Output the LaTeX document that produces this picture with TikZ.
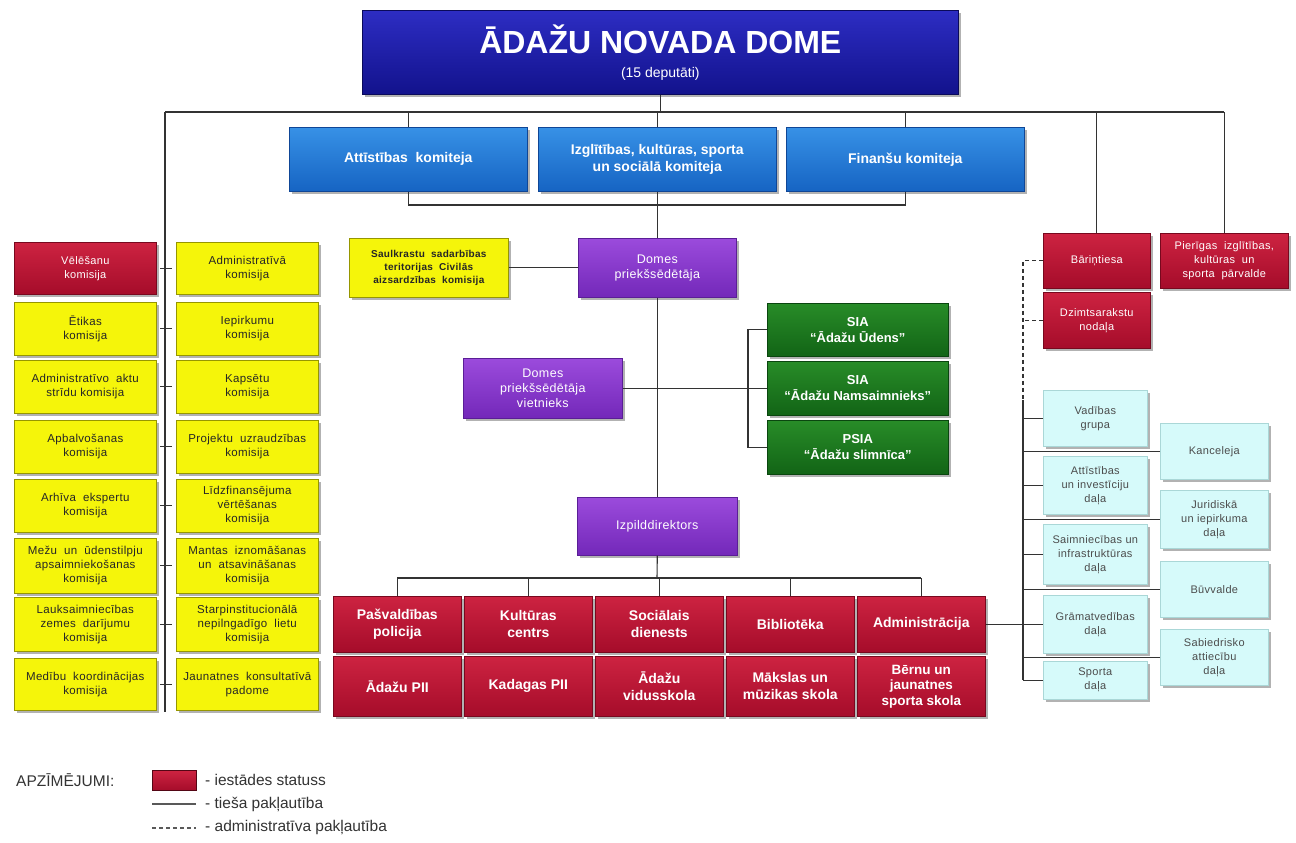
\documentclass[tikz,border=0pt]{standalone}
\usepackage{fontspec}
\setmainfont{Liberation Sans}
\newfontfamily\spacedfont[LetterSpace=3]{Liberation Sans}
\usetikzlibrary{shadows,calc}
\definecolor{domeT}{RGB}{45,45,195}
\definecolor{domeB}{RGB}{18,18,140}
\definecolor{domeD}{RGB}{10,10,90}
\definecolor{commT}{RGB}{55,145,230}
\definecolor{commB}{RGB}{22,100,195}
\definecolor{commD}{RGB}{15,70,150}
\definecolor{purpT}{RGB}{155,75,220}
\definecolor{purpB}{RGB}{115,40,185}
\definecolor{purpD}{RGB}{90,30,150}
\definecolor{grnT}{RGB}{40,140,40}
\definecolor{grnB}{RGB}{18,100,22}
\definecolor{grnD}{RGB}{10,70,15}
\definecolor{redT}{RGB}{205,35,65}
\definecolor{redB}{RGB}{165,12,42}
\definecolor{redD}{RGB}{120,8,30}
\definecolor{yel}{RGB}{245,245,10}
\definecolor{yelD}{RGB}{150,150,0}
\definecolor{lb}{RGB}{214,250,250}
\definecolor{lbD}{RGB}{170,215,215}
\tikzset{
 base/.style={anchor=north west, inner sep=2pt, align=center, line width=0.6pt},
 shad/.style={drop shadow={shadow xshift=3pt, shadow yshift=-3pt, opacity=0.3, fill=black}},
 domebox/.style={base, shad, top color=domeT, bottom color=domeB, draw=domeD, text=white},
 commbox/.style={base, shad, top color=commT, bottom color=commB, draw=commD, text=white, font=\bfseries\fontsize{14}{17}\selectfont, minimum width=238, minimum height=64},
 purpbox/.style={base, shad, top color=purpT, bottom color=purpB, draw=purpD, text=white, font=\spacedfont\fontsize{12.5}{15}\selectfont},
 grnbox/.style={base, shad, top color=grnT, bottom color=grnB, draw=grnD, text=white, font=\bfseries\fontsize{13}{16}\selectfont, minimum width=181},
 redbox/.style={base, shad, top color=redT, bottom color=redB, draw=redD, text=white, font=\bfseries\fontsize{14}{17}\selectfont, minimum width=128},
 redsm/.style={base, shad, top color=redT, bottom color=redB, draw=redD, text=white, font=\spacedfont\fontsize{11}{14}\selectfont},
 ybox/.style={base, shad, fill=yel, draw=yelD, text=black!85, font=\spacedfont\fontsize{11.5}{14}\selectfont, minimum width=142},
 lbbox/.style={base, shad, fill=lb, draw=lbD, text=black!70, font=\spacedfont\fontsize{11}{14}\selectfont},
 conn/.style={draw=black!80, line width=1.1pt},
 dconn/.style={conn, dash pattern=on 4pt off 3pt},
 legtext/.style={anchor=west, inner sep=0pt, text=black!80, font=\fontsize{15.5}{18}\selectfont},
}
\begin{document}
\begin{tikzpicture}[x=1pt,y=-1pt]
\useasboundingbox[fill=white] (0,0) rectangle (1296,843);

% top
\node[domebox, minimum width=596, minimum height=84, font=\fontsize{14}{16}\selectfont] (dome) at (362,10)
 {{\bfseries\fontsize{32}{34}\selectfont ĀDAŽU NOVADA DOME}\\[8pt](15 deputāti)};
\node[commbox] (attk) at (289,127) {Attīstības\ \ komiteja};
\node[commbox] (izgl) at (538,127) {Izglītības,\ kultūras,\ sporta\\un sociālā komiteja};
\node[commbox] (fin) at (786,127) {Finanšu\ komiteja};

% left commissions
\node[redsm, minimum width=142, minimum height=52] (k1a) at (14,242) {Vēlēšanu\\komisija};
\node[ybox, minimum height=52] (k1b) at (176,242) {Administratīvā\\komisija};
\node[ybox, minimum height=53] (k2a) at (14,302) {Ētikas\\komisija};
\node[ybox, minimum height=53] (k2b) at (176,302) {Iepirkumu\\komisija};
\node[ybox, minimum height=53] (k3a) at (14,360) {Administratīvo\ \ aktu\\strīdu komisija};
\node[ybox, minimum height=53] (k3b) at (176,360) {Kapsētu\\komisija};
\node[ybox, minimum height=53] (k4a) at (14,420) {Apbalvošanas\\komisija};
\node[ybox, minimum height=53] (k4b) at (176,420) {Projektu\ \ uzraudzības\\komisija};
\node[ybox, minimum height=53] (k5a) at (14,479) {Arhīva\ \ ekspertu\\komisija};
\node[ybox, minimum height=53] (k5b) at (176,479) {Līdzfinansējuma\\vērtēšanas\\komisija};
\node[ybox, minimum height=55] (k6a) at (14,538) {Mežu\ \ un\ \ ūdenstilpju\\apsaimniekošanas\\komisija};
\node[ybox, minimum height=55] (k6b) at (176,538) {Mantas\ \ iznomāšanas\\un\ \ atsavināšanas\\komisija};
\node[ybox, minimum height=54] (k7a) at (14,597) {Lauksaimniecības\\zemes\ \ darījumu\\komisija};
\node[ybox, minimum height=54] (k7b) at (176,597) {Starpinstitucionālā\\nepilngadīgo\ \ lietu\\komisija};
\node[ybox, minimum height=52] (k8a) at (14,658) {Medību\ \ koordinācijas\\komisija};
\node[ybox, minimum height=52] (k8b) at (176,658) {Jaunatnes\ \ konsultatīvā\\padome};

% middle
\node[ybox, minimum width=159, minimum height=59, font=\spacedfont\bfseries\fontsize{10}{13}\selectfont] (saul) at (349,238) {Saulkrastu\ \ sadarbības\\teritorijas\ \ Civilās\\aizsardzības\ \ komisija};
\node[purpbox, minimum width=158, minimum height=59] (dp) at (578,238) {Domes\\priekšsēdētāja};
\node[purpbox, minimum width=159, minimum height=60] (viet) at (463,358) {Domes\\priekšsēdētāja\\vietnieks};
\node[grnbox, minimum height=53] (sia1) at (767,303) {SIA\\“Ādažu Ūdens”};
\node[grnbox, minimum height=54] (sia2) at (767,361) {SIA\\“Ādažu Namsaimnieks”};
\node[grnbox, minimum height=54] (sia3) at (767,420) {PSIA\\“Ādažu slimnīca”};
\node[purpbox, minimum width=160, minimum height=58] (izp) at (577,497) {Izpilddirektors};

% red institutions
\node[redbox, minimum height=56] (r1) at (333,596) {Pašvaldības\\policija};
\node[redbox, minimum height=56] (r2) at (464,596) {Kultūras\\centrs};
\node[redbox, minimum height=56] (r3) at (595,596) {Sociālais\\dienests};
\node[redbox, minimum height=56] (r4) at (726,596) {Bibliotēka};
\node[redbox, minimum height=56] (r5) at (857,596) {Administrācija};
\node[redbox, minimum height=60] (s1) at (333,656) {Ādažu PII};
\node[redbox, minimum height=60] (s2) at (464,656) {Kadagas PII};
\node[redbox, minimum height=60] (s3) at (595,656) {Ādažu\\vidusskola};
\node[redbox, minimum height=60] (s4) at (726,656) {Mākslas un\\mūzikas skola};
\node[redbox, minimum height=60, font=\bfseries\fontsize{13.5}{15.5}\selectfont] (s5) at (857,656) {Bērnu un\\jaunatnes\\sporta skola};

% right cluster
\node[redsm, minimum width=107, minimum height=55] (bar) at (1043,233) {Bāriņtiesa};
\node[redsm, minimum width=107, minimum height=56] (dzim) at (1043,292) {Dzimtsarakstu\\nodaļa};
\node[redsm, minimum width=128, minimum height=55] (pier) at (1160,233) {Pierīgas\ \ izglītības,\\kultūras\ \ un\\sporta\ \ pārvalde};
\node[lbbox, minimum width=104, minimum height=56] (vad) at (1043,390) {Vadības\\grupa};
\node[lbbox, minimum width=104, minimum height=58] (att) at (1043,456) {Attīstības\\un investīciju\\daļa};
\node[lbbox, minimum width=104, minimum height=60] (saim) at (1043,524) {Saimniecības un\\infrastruktūras\\daļa};
\node[lbbox, minimum width=104, minimum height=58] (gram) at (1043,595) {Grāmatvedības\\daļa};
\node[lbbox, minimum width=104, minimum height=38] (sporta) at (1043,661) {Sporta\\daļa};
\node[lbbox, minimum width=108, minimum height=56] (kanc) at (1160,423) {Kanceleja};
\node[lbbox, minimum width=108, minimum height=58] (jur) at (1160,490) {Juridiskā\\un iepirkuma\\daļa};
\node[lbbox, minimum width=108, minimum height=56] (buv) at (1160,561) {Būvvalde};
\node[lbbox, minimum width=108, minimum height=56] (sab) at (1160,629) {Sabiedrisko\\attiecību\\daļa};

% connectors
\coordinate (busL) at (165,112);
\coordinate (busR) at (1224,112);
\coordinate (lbot) at (165,712);
\coordinate (cb) at (657,205);
\coordinate (gb) at (748,388);
\coordinate (rb) at (657,578);
\coordinate (vx) at (1023,400);
\draw[conn] (busL) -- (busR);
\draw[conn] (dome.south) -- (dome.south |- busL);
\foreach \n in {attk,izgl,fin} \draw[conn] (\n.north) -- (\n.north |- busL);
\draw[conn] (attk.south) -- (attk.south |- cb) -- (fin.south |- cb) -- (fin.south);
\draw[conn] (izgl.south) -- (dp.north);
\draw[conn] (busL) -- (lbot);
\foreach \r in {1,...,8} \draw[conn] ($(k\r a.east)!0.2!(k\r b.west)$) -- ($(k\r a.east)!0.8!(k\r b.west)$);
\draw[conn] (saul.east) -- (dp.west);
\draw[conn] (dp.south) -- (izp.north);
\draw[conn] (viet.east) -- (sia2.west);
\draw[conn] (sia1.west) -- (sia1.west -| gb) -- (sia3.west -| gb) -- (sia3.west);
\draw[conn] (izp.south) -- (rb);
\draw[conn] (r1.north |- rb) -- (r5.north |- rb);
\foreach \n in {r1,r2,r3,r4,r5} \draw[conn] (\n.north) -- (\n.north |- rb);
\draw[conn] (r5.east) -- (gram.west);
\draw[conn] (bar.north) -- (bar.north |- busL);
\draw[conn] (pier.north) -- (pier.north |- busL);
\draw[dconn] (bar.west) -- (bar.west -| vx) -- (vx);
\draw[dconn] (dzim.west) -- (dzim.west -| vx);
\draw[conn] (vx) -- (sporta.west -| vx);
\foreach \n in {vad,att,saim,sporta,kanc,jur,buv,sab} \draw[conn] (\n.west) -- (\n.west -| vx);

% legend
\node[legtext] (apz) at (16,780) {APZĪMĒJUMI:};
\node[base, top color=redT, bottom color=redB, draw=redD!70!black, line width=1pt, minimum width=44, minimum height=20] (sw) at (152,770) {};
\node[legtext] (lg1) at (205,780) {- iestādes statuss};
\coordinate (l1a) at (152,804);
\coordinate (l1b) at (196,804);
\draw[conn, draw=black!65] (l1a) -- (l1b);
\node[legtext] (lg2) at (205,804) {- tieša pakļautība};
\coordinate (l2a) at (152,828);
\coordinate (l2b) at (196,828);
\draw[dconn, draw=black!65] (l2a) -- (l2b);
\node[legtext] (lg3) at (205,828) {- administratīva pakļautība};
\end{tikzpicture}
\end{document}
